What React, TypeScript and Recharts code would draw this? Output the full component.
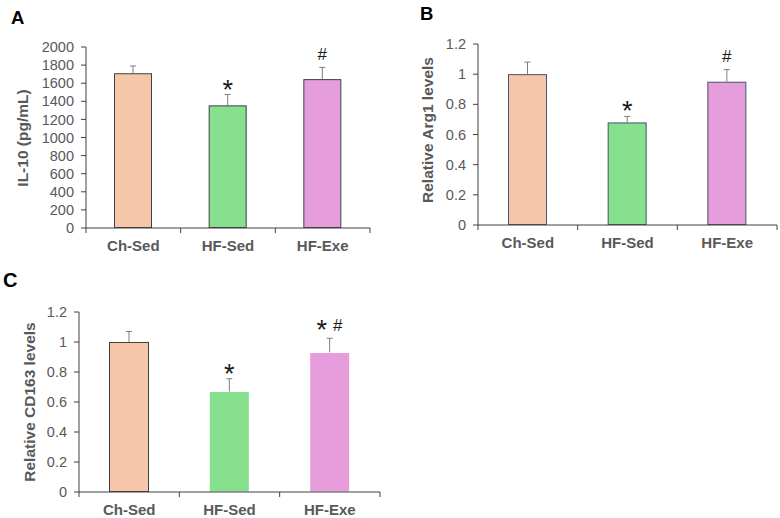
import React from 'react';
import { BarChart, Bar, XAxis, YAxis, Label } from 'recharts';

const categories = ['Ch-Sed', 'HF-Sed', 'HF-Exe'];

const il10Values = [1710, 1355, 1645];
const il10Errors = [80, 120, 130];
const il10Sig = ['', '*', '#'];
const il10Ticks = [0, 200, 400, 600, 800, 1000, 1200, 1400, 1600, 1800, 2000];

const arg1Values = [1.0, 0.68, 0.95];
const arg1Errors = [0.08, 0.04, 0.08];
const arg1Sig = ['', '*', '#'];

const cd163Values = [1.0, 0.67, 0.93];
const cd163Errors = [0.07, 0.085, 0.095];
const cd163Sig = ['', '*', '*#'];

const relTicks = [0, 0.2, 0.4, 0.6, 0.8, 1, 1.2];

const barColors = ['#F5C6AA', '#87E08D', '#E59EDB'];

const FONT = '"Liberation Sans", Arial, sans-serif';
const GRAY = '#595959';
const AXIS = '#404040';
const ERR = '#7F7F7F';
const TICK_SIZE = 5;
const TICK_MARGIN = 7;

type PanelProps = {
  left: number;
  top: number;
  width: number;
  height: number;
  margin: { top: number; right: number; bottom: number; left: number };
  yWidth: number;
  xHeight: number;
  values: number[];
  errors: number[];
  sig: string[];
  ticks: number[];
  domain: [number, number];
  title: string;
  titleX: number;
  titleY: number;
  barSize: number;
  strokes: (string | null)[];
};

function makeShape(strokes: (string | null)[]) {
  return (props: any) => {
    const { x, y, width, height, payload, index } = props;
    const value = payload.value;
    const err = payload.err;
    const sig: string = payload.sig || '';
    const ppu = value ? height / value : 0;
    const errTop = y - err * ppu;
    const cx = x + width / 2;
    const stroke = strokes[index];
    const parts: React.ReactNode[] = [];
    if (sig === '*') {
      parts.push(
        <text key="s" x={cx} y={errTop + 4} textAnchor="middle" fontSize={27} fill="#1a1a1a" fontFamily={FONT}>*</text>
      );
    } else if (sig === '#') {
      parts.push(
        <text key="h" x={cx} y={errTop - 7.5} textAnchor="middle" fontSize={17} fill="#1a1a1a" fontFamily={FONT}>#</text>
      );
    } else if (sig === '*#') {
      parts.push(
        <text key="s" x={cx - 8} y={errTop + 0.5} textAnchor="middle" fontSize={27} fill="#1a1a1a" fontFamily={FONT}>*</text>
      );
      parts.push(
        <text key="h" x={cx + 8} y={errTop - 7} textAnchor="middle" fontSize={17} fill="#1a1a1a" fontFamily={FONT}>#</text>
      );
    }
    return (
      <g>
        <line x1={cx} x2={cx} y1={y} y2={errTop} stroke={ERR} strokeWidth={1} />
        <line x1={cx - 3} x2={cx + 3} y1={errTop} y2={errTop} stroke={ERR} strokeWidth={1} />
        <rect
          x={x + 0.5}
          y={y + 0.5}
          width={width - 1}
          height={height - 1}
          fill={barColors[index]}
          stroke={stroke || 'none'}
          strokeWidth={1}
        />
        {parts}
      </g>
    );
  };
}

function makeXTick(plotWidth: number, n: number) {
  return (props: any) => {
    const { x, y, payload, index } = props;
    const half = plotWidth / (2 * n);
    const axisY = y - TICK_SIZE - TICK_MARGIN;
    return (
      <g>
        <line x1={x - half} x2={x - half} y1={axisY} y2={axisY + 5} stroke={AXIS} />
        {index === n - 1 && (
          <line x1={x + half} x2={x + half} y1={axisY} y2={axisY + 5} stroke={AXIS} />
        )}
        <text
          x={x}
          y={y}
          dy="0.71em"
          textAnchor="middle"
          fontSize={15}
          fontWeight="bold"
          fill={GRAY}
          fontFamily={FONT}
        >
          {payload.value}
        </text>
      </g>
    );
  };
}

function Panel(p: PanelProps) {
  const data = categories.map((c, i) => ({
    name: c,
    value: p.values[i],
    err: p.errors[i],
    sig: p.sig[i],
  }));
  const plotWidth = p.width - p.margin.left - p.margin.right - p.yWidth;
  return (
    <div style={{ position: 'absolute', left: p.left, top: p.top, width: p.width, height: p.height }}>
      <BarChart
        width={p.width}
        height={p.height}
        data={data}
        margin={p.margin}
        style={{ fontFamily: FONT }}
      >
        <XAxis
          dataKey="name"
          height={p.xHeight}
          axisLine={{ stroke: AXIS }}
          tickLine={false}
          tickSize={TICK_SIZE}
          tickMargin={TICK_MARGIN}
          tick={makeXTick(plotWidth, categories.length)}
          interval={0}
        />
        <YAxis
          width={p.yWidth}
          domain={p.domain}
          ticks={p.ticks}
          interval={0}
          axisLine={{ stroke: AXIS }}
          tickLine={{ stroke: AXIS }}
          tickSize={TICK_SIZE}
          tickMargin={TICK_MARGIN}
          tick={{ fill: GRAY, fontSize: 14.5, fontFamily: FONT }}
          tickFormatter={(v: number) => String(v)}
        >
          <Label
            content={() => (
              <text
                x={p.titleX}
                y={p.titleY}
                transform={`rotate(-90 ${p.titleX} ${p.titleY})`}
                textAnchor="middle"
                dominantBaseline="central"
                fontSize={15.5}
                fontWeight="bold"
                fill={GRAY}
                fontFamily={FONT}
              >
                {p.title}
              </text>
            )}
          />
        </YAxis>
        <Bar
          dataKey="value"
          barSize={p.barSize}
          isAnimationActive={false}
          shape={makeShape(p.strokes)}
        />
      </BarChart>
    </div>
  );
}

export default function App() {
  return (
    <div
      style={{
        position: 'absolute',
        left: 0,
        top: 0,
        width: 780,
        height: 518,
        background: '#fff',
        fontFamily: FONT,
      }}
    >
      <Panel
        left={0}
        top={0}
        width={390}
        height={260}
        margin={{ top: 47, right: 20, bottom: 0, left: 0 }}
        yWidth={86}
        xHeight={32}
        values={il10Values}
        errors={il10Errors}
        sig={il10Sig}
        ticks={il10Ticks}
        domain={[0, 2000]}
        title="IL-10 (pg/mL)"
        titleX={22}
        titleY={138}
        barSize={38}
        strokes={[AXIS, AXIS, AXIS]}
      />
      <Panel
        left={390}
        top={0}
        width={390}
        height={260}
        margin={{ top: 44, right: 3, bottom: 0, left: 0 }}
        yWidth={88}
        xHeight={35}
        values={arg1Values}
        errors={arg1Errors}
        sig={arg1Sig}
        ticks={relTicks}
        domain={[0, 1.2]}
        title="Relative Arg1 levels"
        titleX={37}
        titleY={130}
        barSize={39}
        strokes={['#44546A', '#44546A', '#44546A']}
      />
      <Panel
        left={0}
        top={260}
        width={390}
        height={258}
        margin={{ top: 52, right: 10, bottom: 0, left: 0 }}
        yWidth={79}
        xHeight={26}
        values={cd163Values}
        errors={cd163Errors}
        sig={cd163Sig}
        ticks={relTicks}
        domain={[0, 1.2]}
        title="Relative CD163 levels"
        titleX={29}
        titleY={142}
        barSize={40}
        strokes={[AXIS, null, null]}
      />
      <svg
        width={780}
        height={518}
        style={{ position: 'absolute', left: 0, top: 0, pointerEvents: 'none' }}
      >
        <text x={11} y={23.5} fontSize={18.5} fontWeight="bold" fill="#000" fontFamily={FONT}>A</text>
        <text x={420} y={20} fontSize={18.5} fontWeight="bold" fill="#000" fontFamily={FONT}>B</text>
        <text x={3} y={287} fontSize={20} fontWeight="bold" fill="#000" fontFamily={FONT}>C</text>
      </svg>
    </div>
  );
}
